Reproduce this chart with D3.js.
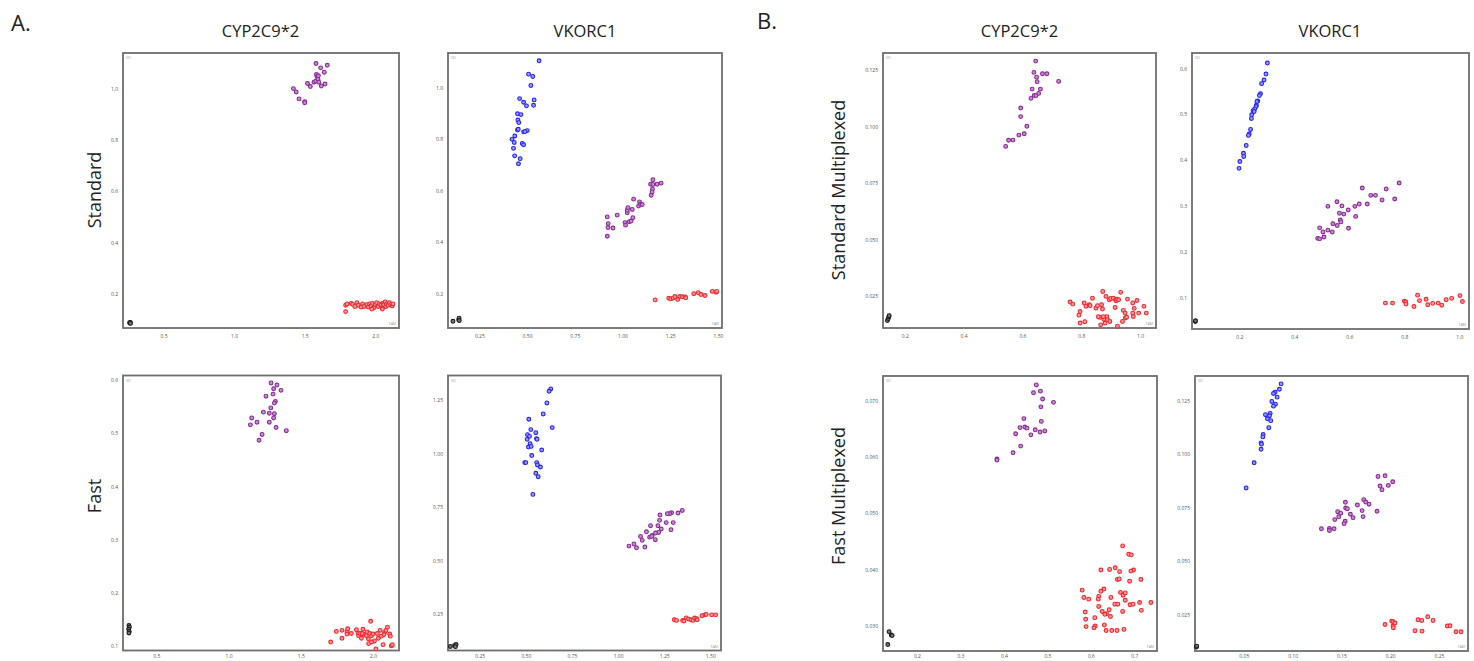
<!DOCTYPE html>
<html><head><meta charset="utf-8">
<script src="https://cdn.jsdelivr.net/npm/d3@7"></script>
<style>body{margin:0;background:#fff}svg{display:block}</style>
</head><body>
<svg id="c" width="1474" height="661"></svg>
<script>
// ---------- Panel A1: CYP2C9*2, Standard ----------
const a1Purple=[[1.42,1.0],[1.44,0.987],[1.46,0.96],[1.50,0.949],[1.50,0.945],[1.52,1.02],[1.54,1.008],[1.566,1.025],[1.578,1.029],[1.58,1.098],[1.583,1.055],[1.587,1.046],[1.594,1.037],[1.597,1.05],[1.60,1.025],[1.613,1.081],[1.618,1.01],[1.639,1.064],[1.644,1.018],[1.66,1.091]];
const a1Red=[[1.79,0.155],[1.79,0.13],[1.80,0.16],[1.83,0.162],[1.84,0.158],[1.855,0.15],[1.87,0.165],[1.88,0.155],[1.90,0.148],[1.91,0.16],[1.92,0.15],[1.94,0.157],[1.95,0.148],[1.96,0.16],[1.97,0.152],[1.98,0.162],[1.99,0.145],[2.00,0.158],[2.01,0.165],[2.02,0.15],[2.03,0.16],[2.04,0.155],[2.05,0.145],[2.055,0.163],[2.06,0.157],[2.07,0.168],[2.075,0.15],[2.08,0.16],[2.09,0.155],[2.10,0.165],[2.11,0.158],[2.12,0.152],[2.125,0.16],[1.975,0.14],[2.05,0.14]];
const a1Ntc=[[0.262,0.085],[0.265,0.088],[0.26,0.087],[0.266,0.084]];
const a1Blue=[];
// ---------- Panel A2: VKORC1, Standard ----------
const a2Blue=[[0.563,1.104],[0.508,1.052],[0.530,1.043],[0.520,1.008],[0.461,0.957],[0.482,0.943],[0.537,0.952],[0.497,0.929],[0.534,0.931],[0.450,0.898],[0.468,0.895],[0.452,0.874],[0.457,0.864],[0.450,0.835],[0.454,0.838],[0.482,0.828],[0.501,0.833],[0.489,0.829],[0.436,0.812],[0.421,0.799],[0.433,0.787],[0.475,0.783],[0.482,0.778],[0.429,0.764],[0.435,0.735],[0.464,0.724],[0.455,0.704]];
const a2Purple=[[0.920,0.498],[0.925,0.472],[0.924,0.457],[0.920,0.423],[0.950,0.455],[0.972,0.505],[1.013,0.476],[1.016,0.466],[1.025,0.514],[1.025,0.524],[1.028,0.534],[1.035,0.479],[1.051,0.527],[1.054,0.495],[1.058,0.567],[1.084,0.540],[1.089,0.556],[1.094,0.547],[1.103,0.546],[1.147,0.625],[1.150,0.582],[1.157,0.606],[1.159,0.642],[1.159,0.624],[1.181,0.625],[1.202,0.629],[1.155,0.595],[1.045,0.482]];
const a2Red=[[1.171,0.176],[1.242,0.183],[1.253,0.180],[1.265,0.183],[1.274,0.189],[1.289,0.178],[1.300,0.189],[1.314,0.188],[1.328,0.187],[1.331,0.184],[1.373,0.200],[1.397,0.204],[1.411,0.197],[1.432,0.193],[1.470,0.209],[1.491,0.206],[1.493,0.209]];
const a2Ntc=[[0.112,0.093],[0.142,0.099],[0.144,0.105],[0.145,0.096]];
// ---------- Panel A3: CYP2C9*2, Fast ----------
const a3Purple=[[1.294,0.595],[1.335,0.591],[1.363,0.581],[1.312,0.584],[1.259,0.570],[1.308,0.574],[1.324,0.560],[1.317,0.557],[1.292,0.548],[1.241,0.540],[1.282,0.538],[1.317,0.537],[1.312,0.529],[1.160,0.529],[1.197,0.521],[1.282,0.521],[1.151,0.516],[1.329,0.511],[1.400,0.505],[1.232,0.498],[1.211,0.487]];
const a3Red=[[1.707,0.107],[1.746,0.127],[1.785,0.114],[1.785,0.129],[1.82,0.127],[1.825,0.132],[1.82,0.122],[1.85,0.123],[1.885,0.130],[1.896,0.124],[1.90,0.119],[1.91,0.123],[1.92,0.114],[1.93,0.131],[1.94,0.121],[1.954,0.119],[1.96,0.126],[1.968,0.113],[1.97,0.104],[1.977,0.123],[1.984,0.146],[1.99,0.119],[2.0,0.122],[2.01,0.109],[2.02,0.094],[2.03,0.123],[2.037,0.114],[2.05,0.129],[2.058,0.118],[2.07,0.102],[2.08,0.125],[2.09,0.129],[2.10,0.135],[2.115,0.122],[2.12,0.118],[2.127,0.100],[2.134,0.102],[2.076,0.121],[1.99,0.107],[1.926,0.123]];
const a3Ntc=[[0.31,0.138],[0.313,0.135],[0.308,0.131],[0.312,0.127],[0.31,0.124]];
// ---------- Panel A4: VKORC1, Fast ----------
const a4Blue=[[0.635,1.303],[0.626,1.292],[0.614,1.2375],[0.594,1.186],[0.516,1.161],[0.643,1.122],[0.527,1.1125],[0.554,1.098],[0.509,1.089],[0.520,1.081],[0.507,1.067],[0.558,1.070],[0.561,1.067],[0.523,1.047],[0.514,1.031],[0.529,1.034],[0.586,1.017],[0.532,0.991],[0.494,0.958],[0.500,0.958],[0.559,0.958],[0.563,0.947],[0.579,0.9375],[0.554,0.908],[0.567,0.892],[0.538,0.809]];
const a4Purple=[[1.348,0.734],[1.325,0.722],[1.290,0.723],[1.280,0.719],[1.267,0.719],[1.227,0.7125],[1.225,0.6875],[1.261,0.677],[1.299,0.677],[1.216,0.6625],[1.234,0.647],[1.176,0.6625],[1.220,0.631],[1.203,0.628],[1.154,0.634],[1.287,0.644],[1.185,0.617],[1.171,0.609],[1.122,0.6125],[1.182,0.6125],[1.131,0.594],[1.202,0.597],[1.059,0.567],[1.086,0.577],[1.100,0.559],[1.145,0.5625]];
const a4Red=[[1.305,0.222],[1.317,0.219],[1.350,0.219],[1.357,0.216],[1.370,0.231],[1.382,0.225],[1.395,0.222],[1.406,0.219],[1.415,0.230],[1.426,0.227],[1.429,0.222],[1.455,0.241],[1.471,0.245],[1.478,0.247],[1.507,0.245],[1.529,0.245]];
const a4Ntc=[[0.091,0.097],[0.114,0.102],[0.122,0.106],[0.118,0.096]];
// ---------- Panel B1: CYP2C9*2, Standard Multiplexed ----------
const b1Purple=[[0.645,0.1291],[0.639,0.1241],[0.668,0.1235],[0.683,0.1235],[0.648,0.1220],[0.650,0.1200],[0.723,0.1201],[0.661,0.1167],[0.633,0.1167],[0.655,0.1148],[0.640,0.1139],[0.646,0.1138],[0.629,0.1126],[0.594,0.1083],[0.594,0.1045],[0.615,0.1002],[0.606,0.0969],[0.588,0.0963],[0.568,0.0941],[0.553,0.0940],[0.543,0.0913]];
const b1Red=[[0.762,0.0223],[0.771,0.0214],[0.792,0.0165],[0.796,0.0181],[0.796,0.0130],[0.810,0.0219],[0.812,0.0136],[0.816,0.0204],[0.827,0.0211],[0.830,0.0207],[0.838,0.0240],[0.850,0.0196],[0.855,0.0207],[0.864,0.0155],[0.866,0.0122],[0.869,0.0211],[0.872,0.0192],[0.873,0.0270],[0.877,0.0147],[0.881,0.0130],[0.884,0.0248],[0.887,0.0158],[0.889,0.0145],[0.895,0.0233],[0.900,0.0239],[0.909,0.0240],[0.915,0.0199],[0.917,0.0234],[0.918,0.0229],[0.921,0.0236],[0.923,0.0116],[0.927,0.0233],[0.934,0.0266],[0.940,0.0137],[0.943,0.0186],[0.949,0.0174],[0.950,0.0152],[0.954,0.0156],[0.957,0.0236],[0.975,0.0219],[0.975,0.0174],[0.977,0.0159],[0.980,0.0195],[0.989,0.0230],[0.995,0.0174],[1.013,0.0204],[1.021,0.0174],[0.875,0.0158],[0.858,0.0158],[0.897,0.0137]];
const b1Ntc=[[0.141,0.0141],[0.144,0.0150],[0.146,0.0158],[0.147,0.0163]];
// ---------- Panel B2: VKORC1, Standard Multiplexed ----------
const b2Blue=[[0.302,0.612],[0.297,0.588],[0.290,0.575],[0.281,0.567],[0.277,0.545],[0.273,0.541],[0.267,0.529],[0.264,0.528],[0.262,0.520],[0.261,0.517],[0.256,0.512],[0.250,0.508],[0.245,0.499],[0.254,0.506],[0.244,0.491],[0.241,0.467],[0.236,0.457],[0.233,0.454],[0.225,0.432],[0.215,0.415],[0.216,0.408],[0.202,0.397],[0.199,0.382]];
const b2Purple=[[0.781,0.350],[0.647,0.339],[0.734,0.337],[0.678,0.323],[0.695,0.323],[0.765,0.315],[0.719,0.313],[0.665,0.304],[0.636,0.304],[0.620,0.299],[0.522,0.299],[0.555,0.309],[0.573,0.300],[0.596,0.291],[0.564,0.284],[0.580,0.282],[0.623,0.277],[0.567,0.269],[0.569,0.265],[0.540,0.261],[0.556,0.257],[0.597,0.251],[0.492,0.252],[0.522,0.247],[0.504,0.243],[0.538,0.243],[0.508,0.232],[0.485,0.229],[0.492,0.228]];
const b2Red=[[0.731,0.0876],[0.757,0.0876],[0.800,0.092],[0.805,0.090],[0.806,0.0854],[0.835,0.080],[0.848,0.105],[0.855,0.093],[0.879,0.096],[0.885,0.084],[0.903,0.087],[0.923,0.0876],[0.936,0.083],[0.952,0.095],[0.972,0.098],[1.002,0.104],[1.011,0.091]];
const b2Ntc=[[0.040,0.0474],[0.041,0.0490]];
// ---------- Panel B3: CYP2C9*2, Fast Multiplexed ----------
const b3Purple=[[0.4745,0.0729],[0.468,0.0715],[0.484,0.0718],[0.489,0.0704],[0.514,0.0698],[0.485,0.0690],[0.446,0.0669],[0.486,0.0664],[0.427,0.0642],[0.437,0.0653],[0.448,0.0654],[0.453,0.0652],[0.472,0.0649],[0.494,0.0647],[0.483,0.0645],[0.462,0.0640],[0.4385,0.0620],[0.421,0.0608],[0.384,0.0597],[0.384,0.0595]];
const b3Red=[[0.673,0.0442],[0.687,0.0427],[0.693,0.0426],[0.656,0.0403],[0.623,0.0399],[0.643,0.0400],[0.666,0.0396],[0.698,0.0399],[0.692,0.0397],[0.715,0.0382],[0.661,0.0382],[0.665,0.0383],[0.689,0.0379],[0.580,0.0363],[0.630,0.0365],[0.623,0.0361],[0.618,0.0352],[0.617,0.0347],[0.584,0.0350],[0.595,0.0347],[0.646,0.0350],[0.668,0.0359],[0.674,0.0354],[0.679,0.0358],[0.679,0.0345],[0.655,0.0338],[0.662,0.0338],[0.690,0.0337],[0.697,0.0338],[0.712,0.0341],[0.738,0.0341],[0.618,0.0334],[0.626,0.0325],[0.636,0.0321],[0.642,0.0328],[0.587,0.0324],[0.609,0.0314],[0.645,0.0316],[0.673,0.0325],[0.716,0.0327],[0.588,0.0311],[0.632,0.0320],[0.589,0.0298],[0.610,0.0299],[0.607,0.0296],[0.631,0.0301],[0.635,0.0291],[0.648,0.0291],[0.660,0.0291],[0.676,0.0293]];
const b3Ntc=[[0.136,0.0289],[0.141,0.0283],[0.143,0.0282],[0.133,0.0266]];
// ---------- Panel B4: VKORC1, Fast Multiplexed ----------
const b4Blue=[[0.0882,0.1329],[0.0865,0.1304],[0.0821,0.1290],[0.0804,0.1284],[0.0841,0.1267],[0.0787,0.1247],[0.0824,0.1234],[0.0804,0.1225],[0.0770,0.1191],[0.0722,0.1185],[0.0763,0.1180],[0.0742,0.1166],[0.0776,0.1157],[0.0756,0.1124],[0.0698,0.1092],[0.0695,0.1081],[0.0677,0.1053],[0.0681,0.1047],[0.0677,0.1023],[0.0606,0.0960],[0.0524,0.0842]];
const b4Purple=[[0.1875,0.0896],[0.1947,0.0899],[0.2026,0.0871],[0.1896,0.0851],[0.1916,0.0834],[0.1981,0.0854],[0.1729,0.0787],[0.1749,0.0776],[0.1783,0.0766],[0.1541,0.0775],[0.1544,0.0748],[0.1561,0.0745],[0.1664,0.0762],[0.1712,0.0736],[0.1865,0.0733],[0.1462,0.0731],[0.1493,0.0724],[0.1592,0.0719],[0.1473,0.0707],[0.1619,0.0703],[0.1722,0.0708],[0.1432,0.0694],[0.1538,0.0686],[0.1527,0.0675],[0.1295,0.0651],[0.1377,0.0652],[0.1377,0.0643],[0.1425,0.0651]];
const b4Red=[[0.1947,0.0203],[0.2015,0.0219],[0.2026,0.0217],[0.2029,0.0196],[0.2032,0.0188],[0.2049,0.0210],[0.2254,0.0174],[0.2285,0.0225],[0.2323,0.0222],[0.2326,0.0172],[0.2384,0.0239],[0.2439,0.0222],[0.2585,0.0196],[0.2613,0.0197],[0.2674,0.0169],[0.2725,0.0169]];
const b4Ntc=[[0.0015,0.0098],[0.0018,0.0102]];

// tick values
const ticksA1x=[0.5,1.0,1.5,2.0], ticksA1y=[0.2,0.4,0.6,0.8,1.0];
const ticksA2x=[0.25,0.5,0.75,1.0,1.25,1.5], ticksA2y=[0.2,0.4,0.6,0.8,1.0];
const ticksA3x=[0.5,1.0,1.5,2.0], ticksA3y=[0.1,0.2,0.3,0.4,0.5,0.6];
const ticksA4x=[0.25,0.5,0.75,1.0,1.25,1.5], ticksA4y=[0.25,0.5,0.75,1.0,1.25];
const ticksB1x=[0.2,0.4,0.6,0.8,1.0], ticksB1y=[0.025,0.05,0.075,0.1,0.125];
const ticksB2x=[0.2,0.4,0.6,0.8,1.0], ticksB2y=[0.1,0.2,0.3,0.4,0.5,0.6];
const ticksB3x=[0.2,0.3,0.4,0.5,0.6,0.7], ticksB3y=[0.03,0.04,0.05,0.06,0.07];
const ticksB4x=[0.05,0.1,0.15,0.2,0.25], ticksB4y=[0.025,0.05,0.075,0.1,0.125];

const colTitles=["CYP2C9*2","VKORC1","CYP2C9*2","VKORC1"];
const rowTitlesA=["Standard","Fast"], rowTitlesB=["Standard Multiplexed","Fast Multiplexed"];

const svg=d3.select("#c");
const FONT="'Open Sans', 'Liberation Sans', sans-serif";
const colors={blue:"#2424f0",purple:"#8a2a96",red:"#f0262e",ntc:"#1a1a1a"};
const fills={blue:"#9a9aff",purple:"#c48fcc",red:"#ff9a9a",ntc:"#777"};

const panels=[
 {box:[123,53,276,275],xd:[0.213,2.168],yd:[0.066,1.139],tx:ticksA1x,ty:ticksA1y,fx:".1f",fy:".1f",s:{purple:a1Purple,red:a1Red,ntc:a1Ntc,blue:a1Blue}},
 {box:[448,53,274,275],xd:[0.086,1.521],yd:[0.067,1.134],tx:ticksA2x,ty:ticksA2y,fx:".2f",fy:".1f",s:{blue:a2Blue,purple:a2Purple,red:a2Red,ntc:a2Ntc}},
 {box:[123,375.5,276,275],xd:[0.269,2.18],yd:[0.091,0.609],tx:ticksA3x,ty:ticksA3y,fx:".1f",fy:".1f",s:{purple:a3Purple,red:a3Red,ntc:a3Ntc}},
 {box:[448,375.5,273,275],xd:[0.078,1.558],yd:[0.078,1.366],tx:ticksA4x,ty:ticksA4y,fx:".2f",fy:".2f",s:{blue:a4Blue,purple:a4Purple,red:a4Red,ntc:a4Ntc}},
 {box:[883,53,273,275],xd:[0.126,1.054],yd:[0.0108,0.1327],tx:ticksB1x,ty:ticksB1y,fx:".1f",fy:".3f",s:{purple:b1Purple,red:b1Red,ntc:b1Ntc}},
 {box:[1192,53,277,276],xd:[0.028,1.035],yd:[0.031,0.634],tx:ticksB2x,ty:ticksB2y,fx:".1f",fy:".1f",s:{blue:b2Blue,purple:b2Purple,red:b2Red,ntc:b2Ntc}},
 {box:[883,376,274,275],xd:[0.122,0.752],yd:[0.02545,0.0745],tx:ticksB3x,ty:ticksB3y,fx:".1f",fy:".3f",s:{purple:b3Purple,red:b3Red,ntc:b3Ntc}},
 {box:[1195,376,273,275],xd:[0.0,0.2797],yd:[0.0079,0.1366],tx:ticksB4x,ty:ticksB4y,fx:".2f",fy:".3f",s:{blue:b4Blue,purple:b4Purple,red:b4Red,ntc:b4Ntc}}
];

panels.forEach((p,i)=>{
  const [x0,y0,w,h]=p.box;
  const bottomRow=y0>300;
  const g=svg.append("g").attr("transform",`translate(${x0},${y0})`);
  const x=d3.scaleLinear().domain(p.xd).range([0,w]);
  const y=d3.scaleLinear().domain(p.yd).range([h,0]);
  const xa=d3.axisBottom(x).tickValues(p.tx).tickFormat(d3.format(p.fx)).tickSize(0).tickPadding(bottomRow?3.5:6);
  const ya=d3.axisLeft(y).tickValues(p.ty).tickFormat(d3.format(p.fy)).tickSize(0).tickPadding(5);
  g.append("g").attr("transform",`translate(0,${h})`).call(xa).call(s=>s.select(".domain").remove());
  g.append("g").call(ya).call(s=>s.select(".domain").remove());
  g.selectAll(".tick text").attr("font-size",5).attr("fill","#555").attr("font-family",FONT);
  g.append("rect").attr("width",w).attr("height",h).attr("fill","none").attr("stroke","#6e6e6e").attr("stroke-width",1.8);
  g.append("text").attr("x",3).attr("y",6).attr("font-size",3.5).attr("fill","#999").attr("font-family",FONT).text("VIC");
  g.append("text").attr("x",w-3).attr("y",h-3).attr("text-anchor","end").attr("font-size",3.5).attr("fill","#999").attr("font-family",FONT).text("FAM");
  ["red","purple","blue","ntc"].forEach(k=>{
    const data=p.s[k]||[];
    g.selectAll(null).data(data).enter().append("circle")
      .attr("cx",d=>x(d[0])).attr("cy",d=>y(d[1])).attr("r",1.9)
      .attr("fill",fills[k]).attr("stroke",colors[k]).attr("stroke-width",1.1);
  });
});

// headings
const tcx=[260.5,585,1019.5,1330];
colTitles.forEach((t,i)=>svg.append("text").attr("x",tcx[i]).attr("y",37).attr("text-anchor","middle")
  .attr("font-family",FONT).attr("font-size",16.5).attr("fill","#222").text(t));
svg.append("text").attr("x",11).attr("y",31).attr("font-family",FONT).attr("font-size",22).attr("fill","#222").text("A.");
svg.append("text").attr("x",757).attr("y",29).attr("font-family",FONT).attr("font-size",22).attr("fill","#222").text("B.");
const rowY=[190,496];
rowTitlesA.forEach((t,i)=>svg.append("text").attr("transform",`translate(101,${rowY[i]}) rotate(-90)`).attr("text-anchor","middle")
  .attr("font-family",FONT).attr("font-size",18).attr("fill","#222").text(t));
rowTitlesB.forEach((t,i)=>svg.append("text").attr("transform",`translate(845,${rowY[i]}) rotate(-90)`).attr("text-anchor","middle")
  .attr("font-family",FONT).attr("font-size",18).attr("fill","#222").text(t));
</script>
</body></html>
